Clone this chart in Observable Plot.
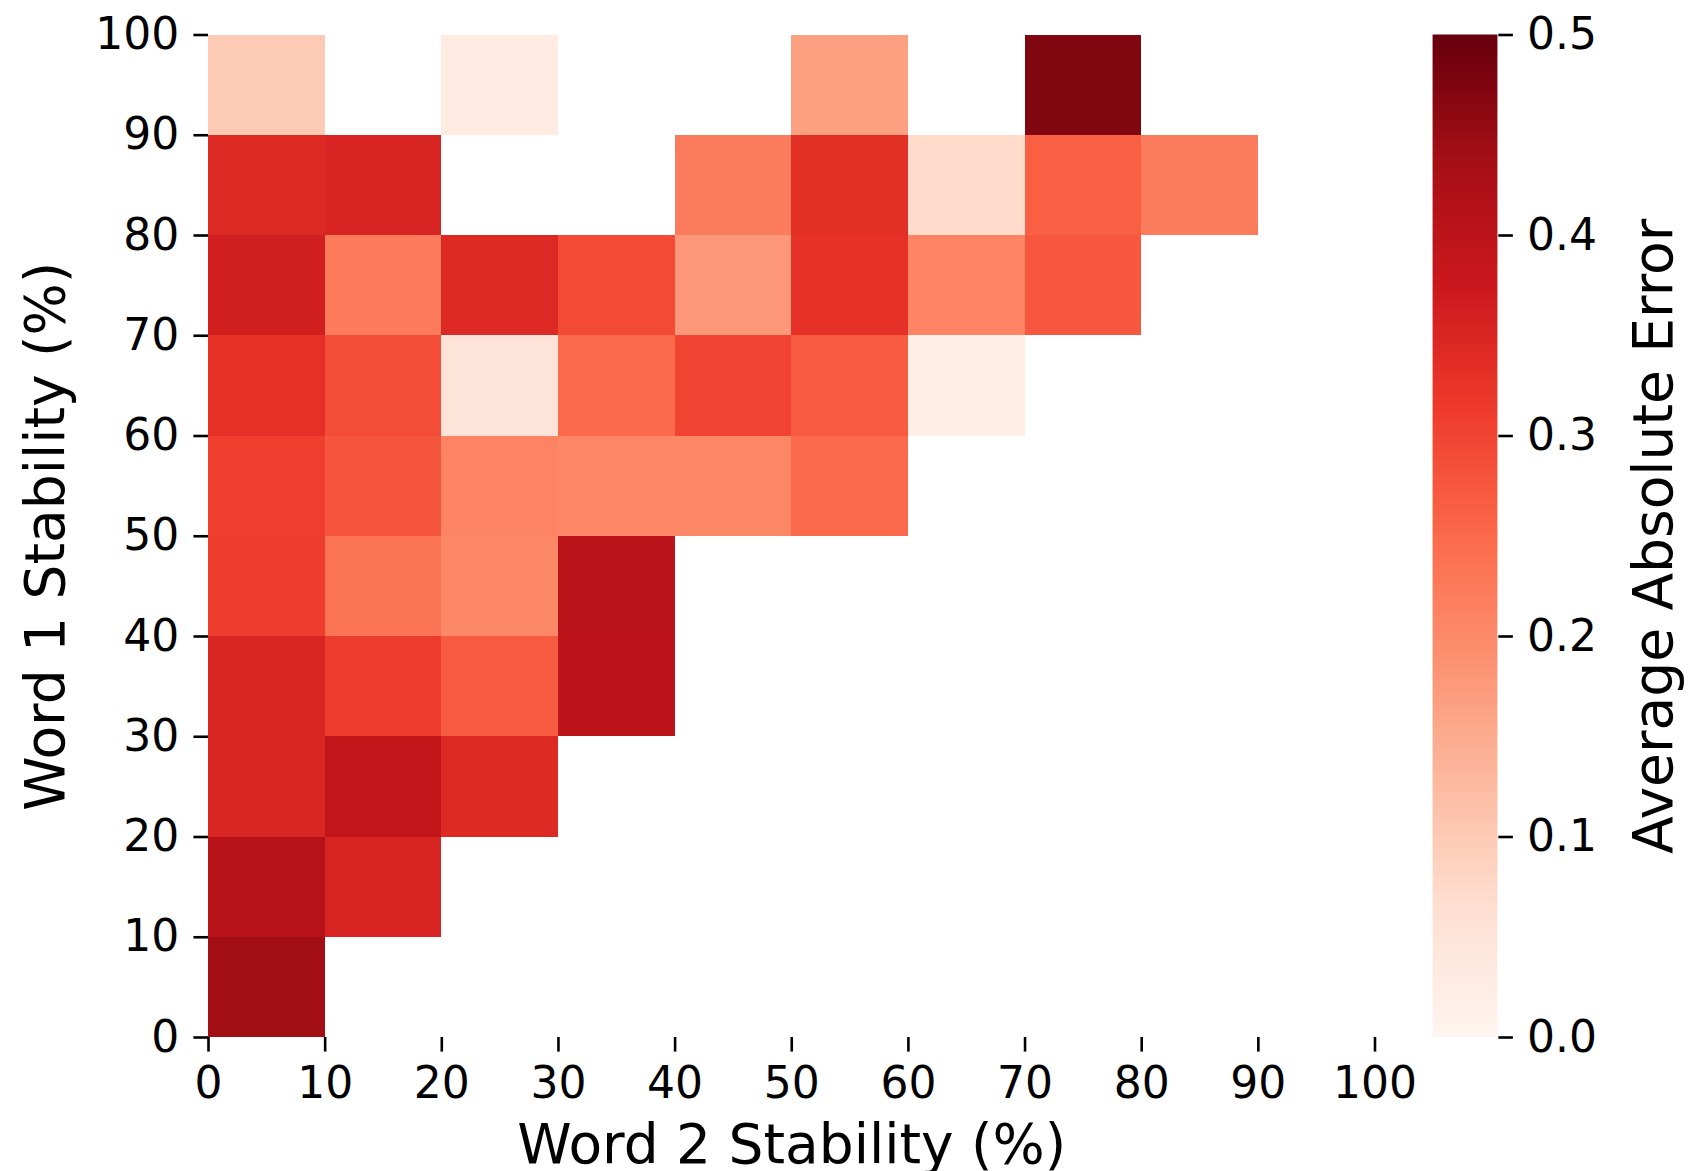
<!DOCTYPE html>
<html>
<head>
<meta charset="utf-8">
<script src="https://cdn.jsdelivr.net/npm/d3@7"></script>
<script src="https://cdn.jsdelivr.net/npm/@observablehq/plot@0.6"></script>
<style>
  html, body { margin: 0; padding: 0; background: #fff; }
  #wrap { position: relative; width: 1689px; height: 1171px; font-family: "DejaVu Sans", sans-serif; }
  #main { position: absolute; left: 0; top: 0; }
  #cbar { position: absolute; left: 1420px; top: 0; }
</style>
</head>
<body>
<div id="wrap"><div id="main"></div><div id="cbar"></div></div>
<script>
// ---- data ----
const xBins = [0, 10, 20, 30, 40, 50, 60, 70, 80, 90];   // Word 2 stability bin start (%)
const yBins = [0, 10, 20, 30, 40, 50, 60, 70, 80, 90];   // Word 1 stability bin start (%)
const binWidth = 10;
// average absolute error per cell, one array per Word 1 bin (null = no data)
const err_y0  = [0.44, null, null, null, null, null, null, null, null, null];
const err_y10 = [0.41, 0.355, null, null, null, null, null, null, null, null];
const err_y20 = [0.35, 0.39, 0.344, null, null, null, null, null, null, null];
const err_y30 = [0.35, 0.31, 0.27, 0.40, null, null, null, null, null, null];
const err_y40 = [0.31, 0.233, 0.203, 0.401, null, null, null, null, null, null];
const err_y50 = [0.307, 0.278, 0.21, 0.207, 0.205, 0.25, null, null, null, null];
const err_y60 = [0.332, 0.29, 0.05, 0.25, 0.302, 0.27, 0.02, null, null, null];
const err_y70 = [0.365, 0.224, 0.344, 0.292, 0.178, 0.33, 0.209, 0.275, null, null];
const err_y80 = [0.344, 0.353, null, null, 0.222, 0.333, 0.071, 0.265, 0.222, null];
const err_y90 = [0.10, null, 0.03, null, null, 0.166, null, 0.475, null, null];
const errRows = [err_y0, err_y10, err_y20, err_y30, err_y40, err_y50, err_y60, err_y70, err_y80, err_y90];

const xTicks = [0, 10, 20, 30, 40, 50, 60, 70, 80, 90, 100];
const yTicks = [0, 10, 20, 30, 40, 50, 60, 70, 80, 90, 100];
const cbarTicks = [0.0, 0.1, 0.2, 0.3, 0.4, 0.5];
const xLabel = "Word 2 Stability (%)";
const yLabel = "Word 1 Stability (%)";
const cLabel = "Average Absolute Error";

// matplotlib "Reds" anchor colours
const reds = ["#fff5f0", "#fee0d2", "#fcbba1", "#fc9272", "#fb6a4a", "#ef3b2c", "#cb181d", "#a50f15", "#67000d"];
const cMin = 0, cMax = 0.5;
const colorScale = {
  type: "linear",
  domain: reds.map((_, i) => cMin + (cMax - cMin) * i / (reds.length - 1)),
  range: reds,
  interpolate: "rgb",
  clamp: true
};

const cells = [];
errRows.forEach((row, j) => row.forEach((v, i) => {
  if (v != null) cells.push({x: xBins[i], y: yBins[j], v});
}));

const H = 1171, TOP = 34.5, BOTTOM = 134;
const TICK = 14.6, PAD = 14.6;
const FONT = "DejaVu Sans";
const LABEL_SIZE = 55;

const main = Plot.plot({
  width: 1420,
  height: H,
  marginLeft: 208,
  marginRight: 45.5,
  marginTop: TOP,
  marginBottom: BOTTOM,
  style: {fontFamily: FONT, color: "#000", background: "#fff", overflow: "visible"},
  x: {domain: [0, 100]},
  y: {domain: [0, 100]},
  color: colorScale,
  marks: [
    Plot.rect(cells, {
      x1: "x", x2: d => d.x + binWidth,
      y1: "y", y2: d => d.y + binWidth,
      fill: "v", shapeRendering: "crispEdges"
    }),
    Plot.axisX({ticks: xTicks, tickSize: TICK, tickPadding: PAD, fontSize: 44, strokeWidth: 2.6, label: null}),
    Plot.axisY({ticks: yTicks, tickSize: TICK, tickPadding: PAD, fontSize: 44, strokeWidth: 2.6, label: null}),
    Plot.text([xLabel], {text: d => d, frameAnchor: "bottom", textAnchor: "middle", dy: 125, lineAnchor: "bottom", fontSize: LABEL_SIZE}),
    Plot.text([yLabel], {text: d => d, frameAnchor: "left", textAnchor: "middle", rotate: -90, dx: -184, lineAnchor: "top", fontSize: LABEL_SIZE})
  ]
});
document.getElementById("main").appendChild(main);

// colour bar
const cStep = (cMax - cMin) / 500;
const cStops = d3.range(cMin, cMax, cStep);
const cbar = Plot.plot({
  width: 269,
  height: H,
  marginLeft: 12.7,
  marginRight: 191.7,
  marginTop: TOP,
  marginBottom: BOTTOM,
  style: {fontFamily: FONT, color: "#000", background: "#fff", overflow: "visible"},
  x: {domain: [0, 1], axis: null},
  y: {domain: [cMin, cMax]},
  color: colorScale,
  marks: [
    Plot.rect(cStops, {x1: 0, x2: 1, y1: d => d, y2: d => Math.min(cMax, d + cStep * 1.6), fill: d => d + cStep / 2}),
    Plot.axisY({anchor: "right", ticks: cbarTicks, tickFormat: d3.format(".1f"), tickSize: TICK, tickPadding: PAD, fontSize: 44, strokeWidth: 2.6, label: null}),
    Plot.text([cLabel], {text: d => d, frameAnchor: "right", textAnchor: "middle", rotate: -90, dx: 173.7, lineAnchor: "bottom", fontSize: LABEL_SIZE})
  ]
});
document.getElementById("cbar").appendChild(cbar);
</script>
</body>
</html>
